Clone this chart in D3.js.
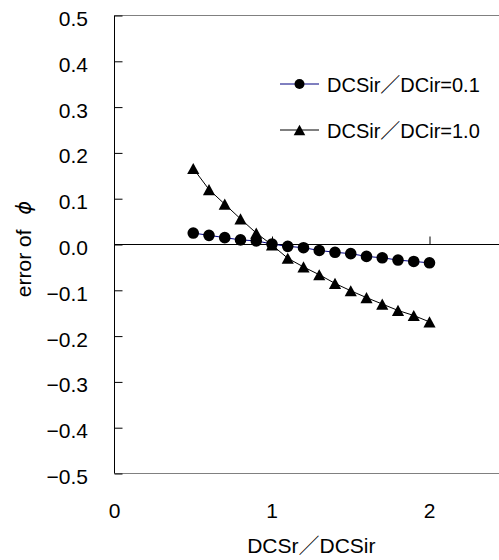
<!DOCTYPE html>
<html>
<head>
<meta charset="utf-8">
<script src="https://cdn.jsdelivr.net/npm/d3@7"></script>
<style>
  html, body { margin: 0; padding: 0; background: #fff; }
  svg { display: block; }
  text { font-family: "Liberation Sans", Arial, "Noto Sans CJK JP", sans-serif; fill: #000; }
</style>
</head>
<body>
<svg id="chart" width="499" height="560"></svg>
<script>
// ---- data ----
const xValues = [0.5, 0.6, 0.7, 0.8, 0.9, 1.0, 1.1, 1.2, 1.3, 1.4, 1.5, 1.6, 1.7, 1.8, 1.9, 2.0];
const seriesNames = ["DCSir\uFF0FDCir=0.1", "DCSir\uFF0FDCir=1.0"];
const series01 = [0.025, 0.020, 0.015, 0.010, 0.008, 0.001, -0.004, -0.007, -0.013, -0.017, -0.020, -0.026, -0.029, -0.034, -0.037, -0.040];
const series10 = [0.166, 0.120, 0.088, 0.056, 0.025, -0.001, -0.030, -0.049, -0.066, -0.085, -0.101, -0.116, -0.130, -0.144, -0.155, -0.169];
const yTicks = [0.5, 0.4, 0.3, 0.2, 0.1, 0.0, -0.1, -0.2, -0.3, -0.4, -0.5];
const xTicks = [0, 1, 2];
const xTitle = "DCSr\uFF0FDCSir";
const yTitle = "error of ";
const yTitleSymbol = "\u03D5";

// ---- layout ----
const svg = d3.select("#chart");
const pLeft = 114.5, pTop = 15.5, pBottom = 473.5;
const xMax = 2.5;
const x = d3.scaleLinear().domain([0, xMax]).range([pLeft, pLeft + xMax * 157.5]);
const y = d3.scaleLinear().domain([-0.5, 0.5]).range([pBottom, pTop]);

// frame (top / bottom grey, left black)
svg.append("line").attr("x1", pLeft).attr("x2", x(xMax)).attr("y1", pTop).attr("y2", pTop)
  .attr("stroke", "#808080").attr("stroke-width", 1);
svg.append("line").attr("x1", pLeft).attr("x2", x(xMax)).attr("y1", pBottom).attr("y2", pBottom)
  .attr("stroke", "#808080").attr("stroke-width", 1);

// y axis with inward ticks
const yAxis = d3.axisRight(y).tickValues(yTicks).tickSize(8).tickFormat("");
const gy = svg.append("g").attr("transform", `translate(${pLeft},0)`).call(yAxis);
gy.select(".domain").attr("stroke", "#000").attr("d", `M0,${pTop}V${pBottom}`);
gy.selectAll(".tick line").attr("stroke", "#000");

// y tick labels
svg.append("g").selectAll("text").data(yTicks).join("text")
  .attr("x", 88).attr("y", d => y(d) + 10.5)
  .attr("text-anchor", "end").attr("font-size", 21)
  .text(d => d < 0 ? "\u2212" + Math.abs(d).toFixed(1) : d.toFixed(1));

// x axis at y=0 with upward ticks
const xAxis = d3.axisTop(x).tickValues(xTicks.filter(d => d > 0)).tickSize(8).tickFormat("");
const gx = svg.append("g").attr("transform", `translate(0,${y(0)})`).call(xAxis);
gx.select(".domain").attr("stroke", "#000").attr("d", `M${pLeft},0H${x(xMax)}`);
gx.selectAll(".tick line").attr("stroke", "#000");

// x tick labels (at the bottom)
svg.append("g").selectAll("text").data(xTicks).join("text")
  .attr("x", d => x(d)).attr("y", 518)
  .attr("text-anchor", "middle").attr("font-size", 21)
  .text(d => d);

// titles
svg.append("text").attr("x", (x(0) + x(xMax)) / 2).attr("y", 553)
  .attr("text-anchor", "middle").attr("font-size", 21).text(xTitle);
const yt = svg.append("text").attr("transform", "translate(30.5,249) rotate(-90)")
  .attr("text-anchor", "middle").attr("font-size", 21);
yt.append("tspan").text(yTitle);
yt.append("tspan").attr("dx", 9).attr("font-style", "italic")
  .attr("font-family", "DejaVu Sans, sans-serif").text(yTitleSymbol);

// markers
const triType = {
  draw(ctx, size) {
    const w = Math.sqrt(size * 4 / Math.sqrt(3));
    const h = w * 0.92;
    ctx.moveTo(0, -h / 2);
    ctx.lineTo(w / 2, h / 2);
    ctx.lineTo(-w / 2, h / 2);
    ctx.closePath();
  }
};

const data = [
  { name: seriesNames[0], values: series01, color: "#000080", symbol: d3.symbolCircle, size: Math.PI * 5.8 * 5.8, lsize: Math.PI * 5 * 5 },
  { name: seriesNames[1], values: series10, color: "#000000", symbol: triType, size: 64, lsize: 58 }
];

const line = d3.line().x(d => x(d[0])).y(d => y(d[1]));

data.forEach((s, i) => {
  const pts = xValues.map((xv, j) => [xv, s.values[j]]);
  svg.append("path").datum(pts).attr("d", line)
    .attr("fill", "none").attr("stroke", s.color).attr("stroke-width", 1);
  svg.append("g").selectAll("path").data(pts).join("path")
    .attr("transform", d => `translate(${x(d[0])},${y(d[1])})`)
    .attr("d", d3.symbol().type(s.symbol).size(s.size))
    .attr("fill", "#000");
});

// legend
const lg = svg.append("g");
data.forEach((s, i) => {
  const ly = 84 + i * 46;
  lg.append("line").attr("x1", 280).attr("x2", 319).attr("y1", ly).attr("y2", ly)
    .attr("stroke", s.color).attr("stroke-width", 1);
  lg.append("path").attr("transform", `translate(299.5,${ly})`)
    .attr("d", d3.symbol().type(s.symbol).size(s.lsize)).attr("fill", "#000");
  lg.append("text").attr("x", 327).attr("y", ly + 7.8).attr("font-size", 20).text(s.name);
});
</script>
</body>
</html>
